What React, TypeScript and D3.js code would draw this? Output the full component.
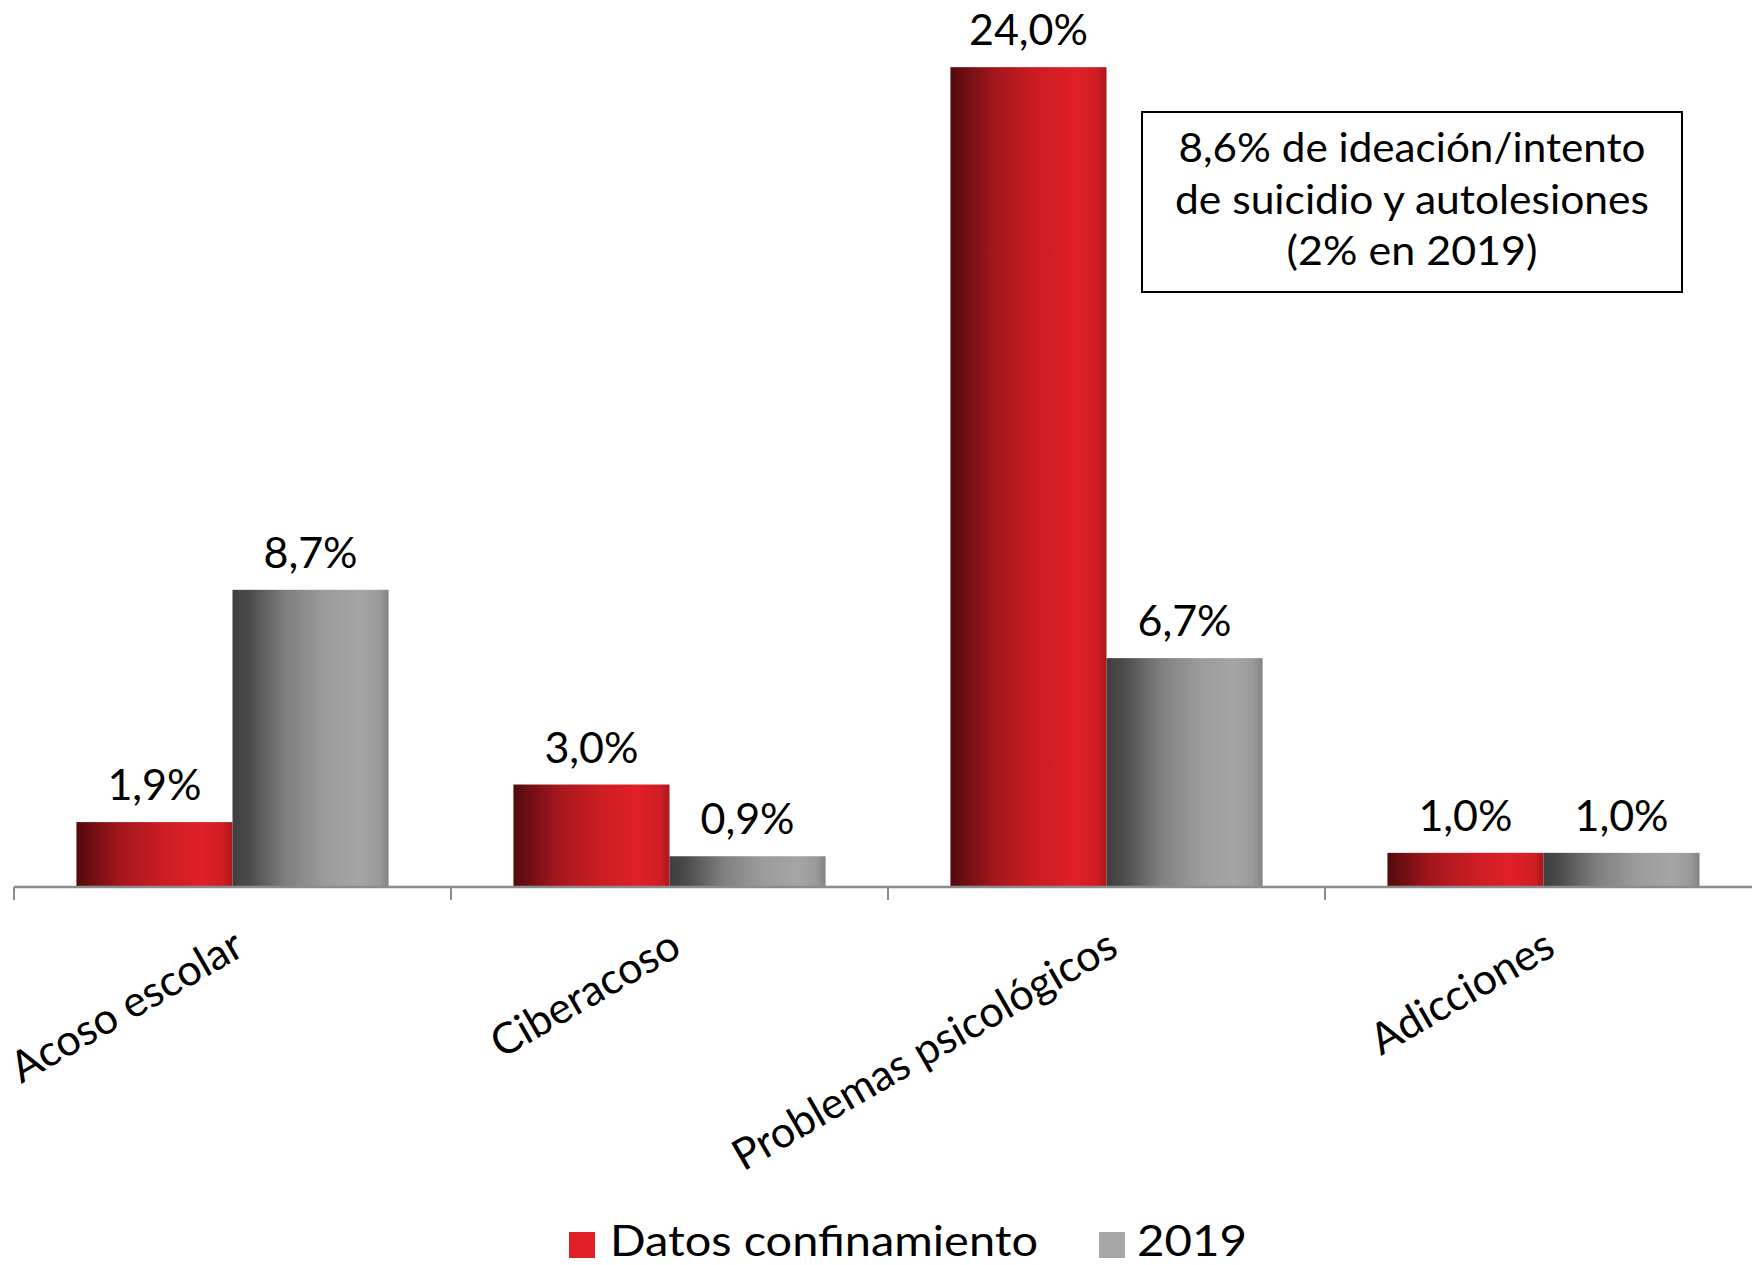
import React from "react";
import * as d3 from "d3";

const categories = ["Acoso escolar", "Ciberacoso", "Problemas psicológicos", "Adicciones"];
const seriesNames = ["Datos confinamiento", "2019"];
const confinamiento = [1.9, 3.0, 24.0, 1.0];
const y2019 = [8.7, 0.9, 6.7, 1.0];
const noteLines = ["8,6% de ideación/intento", "de suicidio y autolesiones", "(2% en 2019)"];

const W = 1752;
const H = 1265;
const FONT = "Lato, 'Noto Sans', sans-serif";

export default function App() {
  const baseY = 887;
  const step = 437;
  const x0 = d3.scaleBand<string>().domain(categories).range([14, 14 + step * categories.length]).paddingInner(0).paddingOuter(0);
  const x1 = d3.scaleBand<string>().domain(seriesNames).range([0, x0.bandwidth()]).paddingInner(0).paddingOuter(0.4);
  const y = d3.scaleLinear().domain([0, 25]).range([baseY, 33]);
  const fmt = (v: number) => d3.format(".1f")(v).replace(".", ",") + "%";

  const data = categories.map((c, i) => ({
    cat: c,
    vals: [
      { key: seriesNames[0], v: confinamiento[i], grad: "gRed" },
      { key: seriesNames[1], v: y2019[i], grad: "gGray" },
    ],
  }));

  const legendColors = ["#e02027", "#a6a6a6"];
  const noteWidths = [467, 474, 251];

  return (
    <svg width={W} height={H} style={{ position: "absolute", left: 0, top: 0, background: "#fff" }} fontFamily={FONT}>
      <defs>
        <linearGradient id="gRed" x1="0" y1="0" x2="1" y2="0">
          <stop offset="0" stopColor="#520a0e" />
          <stop offset="0.28" stopColor="#a3171c" />
          <stop offset="0.55" stopColor="#cc1d23" />
          <stop offset="0.8" stopColor="#e01f27" />
          <stop offset="0.94" stopColor="#d01d24" />
          <stop offset="1" stopColor="#a8181d" />
        </linearGradient>
        <linearGradient id="gGray" x1="0" y1="0" x2="1" y2="0">
          <stop offset="0" stopColor="#3f3f3f" />
          <stop offset="0.1" stopColor="#4a4a4a" />
          <stop offset="0.35" stopColor="#808080" />
          <stop offset="0.6" stopColor="#9c9c9c" />
          <stop offset="0.82" stopColor="#a5a5a5" />
          <stop offset="0.94" stopColor="#9a9a9a" />
          <stop offset="1" stopColor="#828282" />
        </linearGradient>
      </defs>
      <rect x={0} y={0} width={W} height={H} fill="#fff" />

      {data.map((d) => (
        <g key={d.cat} transform={`translate(${x0(d.cat)},0)`}>
          {d.vals.map((s) => (
            <g key={s.key}>
              <rect
                x={x1(s.key)}
                y={y(s.v)}
                width={x1.bandwidth()}
                height={baseY - y(s.v)}
                fill={`url(#${s.grad})`}
              />
              <text
                x={(x1(s.key) as number) + x1.bandwidth() / 2}
                y={y(s.v) - 22}
                textAnchor="middle"
                fontSize={43}
                fill="#000"
              >
                {fmt(s.v)}
              </text>
            </g>
          ))}
        </g>
      ))}

      {/* axis */}
      <line x1={14} x2={W} y1={baseY} y2={baseY} stroke="#8c8c8c" strokeWidth={2.5} />
      {categories.map((c) => (
        <line key={"t" + c} x1={x0(c)} x2={x0(c)} y1={baseY} y2={baseY + 13} stroke="#8c8c8c" strokeWidth={2} />
      ))}
      {categories.map((c) => {
        const cx = (x0(c) as number) + x0.bandwidth() / 2 + 14;
        const cy = 954;
        return (
          <text key={"l" + c} x={cx} y={cy} textAnchor="end" fontSize={43} fill="#000" transform={`rotate(-30 ${cx} ${cy})`}>
            {c}
          </text>
        );
      })}

      {/* note box */}
      <rect x={1142} y={112} width={540} height={180} fill="#fff" stroke="#000" strokeWidth={2} />
      {noteLines.map((t, i) => (
        <text
          key={t}
          x={1412}
          y={162 + i * 51.5}
          textAnchor="middle"
          fontSize={40}
          fill="#000"
          textLength={noteWidths[i]}
          lengthAdjust="spacingAndGlyphs"
        >
          {t}
        </text>
      ))}

      {/* legend */}
      <rect x={569} y={1232} width={26} height={26} fill={legendColors[0]} />
      <text x={610} y={1256} fontSize={42} fill="#000" textLength={428} lengthAdjust="spacingAndGlyphs">
        {seriesNames[0]}
      </text>
      <rect x={1099} y={1232} width={26} height={26} fill={legendColors[1]} />
      <text x={1137} y={1256} fontSize={42} fill="#000" textLength={110} lengthAdjust="spacingAndGlyphs">
        {seriesNames[1]}
      </text>
    </svg>
  );
}
